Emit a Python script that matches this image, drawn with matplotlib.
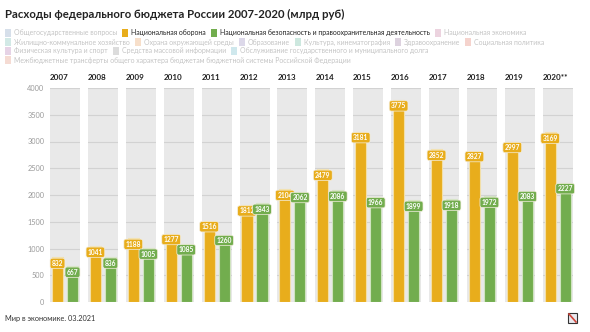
import numpy as np
import matplotlib
matplotlib.use("Agg")
import matplotlib.pyplot as plt
from matplotlib.patches import Rectangle

plt.rcParams['font.family'] = ['Lato', 'DejaVu Sans']

# Данные (млрд руб)
anos = ['2007', '2008', '2009', '2010', '2011', '2012', '2013',
        '2014', '2015', '2016', '2017', '2018', '2019', '2020**']
oborona = [832, 1041, 1188, 1277, 1516, 1812, 2104, 2479, 3181, 3775, 2852, 2827, 2997, 3169]
bezopasnost = [667, 836, 1005, 1085, 1260, 1843, 2062, 2086, 1966, 1899, 1918, 1972, 2083, 2227]

# Легенда: (текст, цвет, активна ли)
leyenda = [
    [('Общегосударственные вопросы', '#d6dfea', False),
     ('Национальная оборона', '#e8ad1c', True),
     ('Национальная безопасность и правоохранительная деятельность', '#72ad4e', True),
     ('Национальная экономика', '#ecd3df', False)],
    [('Жилищно-коммунальное хозяйство', '#d2e9e6', False),
     ('Охрана окружающей среды', '#f7dfca', False),
     ('Образование', '#dcd8e9', False),
     ('Культура, кинематография', '#cde8df', False),
     ('Здравоохранение', '#ddd2df', False),
     ('Социальная политика', '#f5d3cd', False)],
    [('Физическая культура и спорт', '#e6d3e6', False),
     ('Средства массовой информации', '#dcdcdc', False),
     ('Обслуживание государственного и муниципального долга', '#cfe8ed', False)],
    [('Межбюджетные трансферты общего характера бюджетам бюджетной системы Российской Федерации', '#f5dbd3', False)],
]

color_or = '#e8ad1c'
color_ve = '#72ad4e'

W, H = 590, 332
fig = plt.figure(figsize=(W / 100, H / 100), dpi=100)

fig.text(5 / W, 1 - 14 / H, 'Расходы федерального бюджета России 2007-2020 (млрд руб)',
         fontsize=8.2, fontweight='bold', va='center', ha='left', color='#222222')

# Легенда, строка за строкой
fig.canvas.draw()
renderer = fig.canvas.get_renderer()
filas_y = [33, 42, 51, 60]
for fila, y in zip(leyenda, filas_y):
    x = 5
    for texto, color, activo in fila:
        fig.patches.append(Rectangle((x / W, 1 - (y + 3.5) / H), 6 / W, 7 / H,
                                     transform=fig.transFigure, facecolor=color,
                                     edgecolor='none'))
        t = fig.text((x + 9) / W, 1 - y / H, texto, fontsize=4.95, va='center', ha='left',
                     color='#222222' if activo else '#c4c4c4')
        bb = t.get_window_extent(renderer)
        x = x + 9 + bb.width + 5

# Paneles por año
izq = 50
ancho = 30
paso = 37.9
abajo = 1 - 302 / H
alto = (302 - 88) / H

for i, ano in enumerate(anos):
    ax = fig.add_axes([(izq + i * paso) / W, abajo, ancho / W, alto])
    ax.set_facecolor('#e9e9e9')
    ax.set_xlim(-0.5, 1.5)
    ax.set_ylim(0, 4000)
    ax.set_yticks(np.arange(0, 4001, 500))
    ax.grid(axis='y', color='#d2d2d2', linewidth=0.8)
    ax.set_axisbelow(True)
    for s in ax.spines.values():
        s.set_visible(False)
    ax.set_xticks([])
    ax.tick_params(axis='y', length=0, labelsize=5.3, labelcolor='#9a9a9a', pad=4)
    if i > 0:
        ax.set_yticklabels([])

    valores = [oborona[i], bezopasnost[i]]
    colores = [color_or, color_ve]
    bordes = ['#f2dfa8', '#cfe3bf']
    ax.bar([0, 1], valores, width=0.74, color=colores, edgecolor=bordes, linewidth=0.8)
    for xx, v, c in zip([0, 1], valores, colores):
        ax.text(xx, v - 110, str(v), fontsize=4.8, fontweight='bold', color='white',
                ha='center', va='center',
                bbox=dict(boxstyle='round,pad=0.25,rounding_size=0.3', fc=c,
                          ec='#f4efe0', lw=0.5))

    ax.text(0, 1.035, ano, transform=ax.transAxes, fontsize=5.8, fontweight='bold',
            ha='left', va='bottom', color='#222222')

fig.text(5 / W, 1 - 318 / H, 'Мир в экономике. 03.2021', fontsize=5.3, va='center',
         ha='left', color='#333333')

# Маленький значок справа внизу
fig.patches.append(Rectangle((568 / W, 1 - 323 / H), 9 / W, 10 / H, transform=fig.transFigure,
                             facecolor='#e9e9ef', edgecolor='#333333', linewidth=0.8))
fig.lines.append(plt.Line2D([569 / W, 576 / W], [1 - 314 / H, 1 - 322 / H],
                            transform=fig.transFigure, color='#d0453a', linewidth=1.2))

fig.savefig('out.png', dpi=100)
